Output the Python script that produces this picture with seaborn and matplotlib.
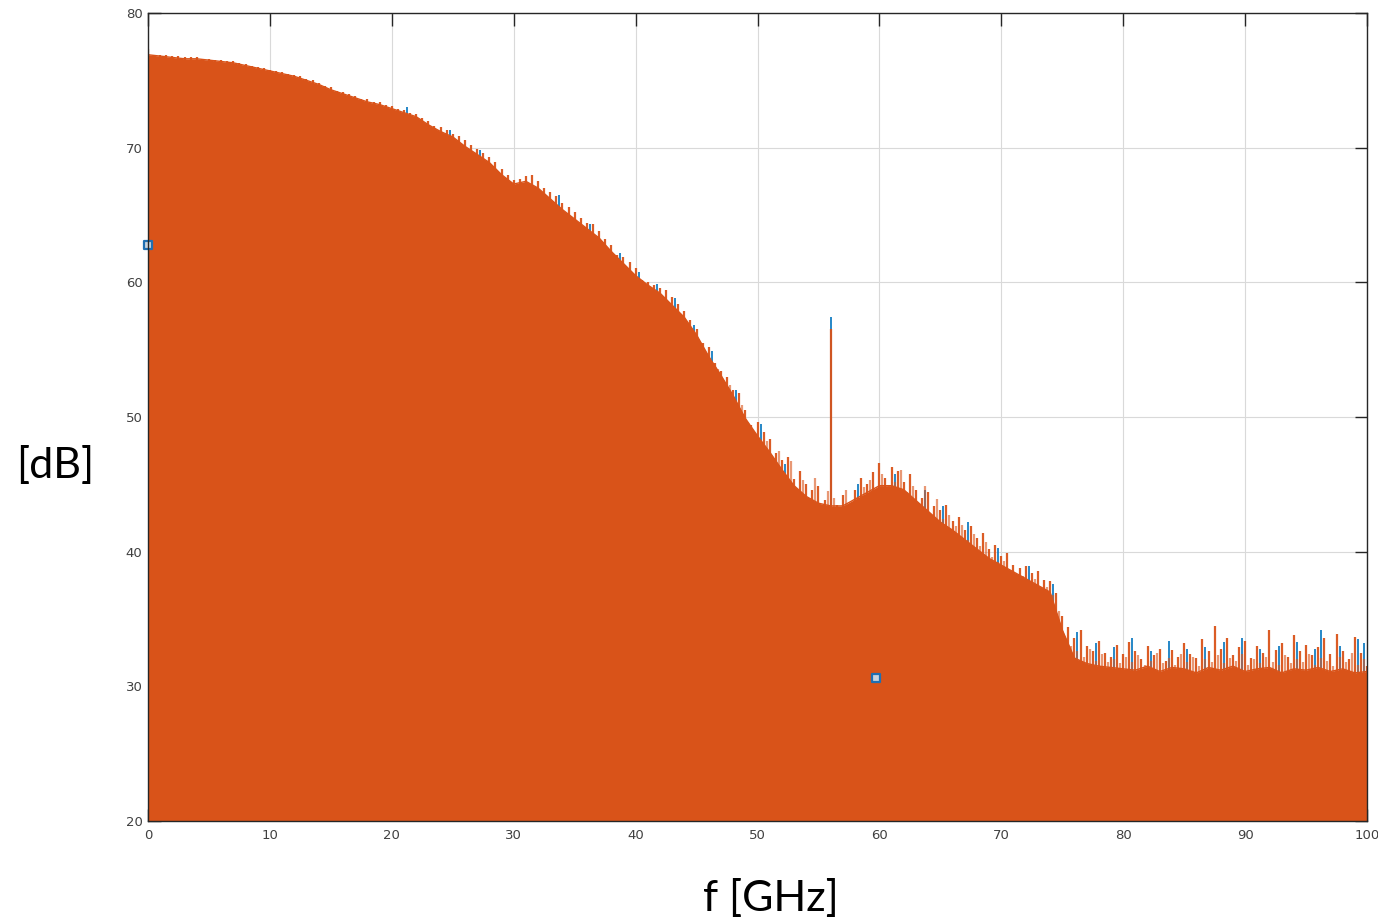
import numpy as np
import pandas as pd
import matplotlib
matplotlib.use("Agg")
import matplotlib.pyplot as plt
import seaborn as sns

# ---- spectrum data (dB) ----
# solid body level, 1 GHz steps from 0 to 100 GHz
floor_freq_ghz = list(range(0, 101))
floor_db = [
    76.9, 76.8, 76.7, 76.6, 76.6, 76.5, 76.4, 76.3, 76.1, 75.9,
    75.7, 75.5, 75.3, 75.0, 74.7, 74.3, 74.0, 73.7, 73.4, 73.2,
    72.9, 72.6, 72.3, 71.7, 71.2, 70.8, 70.1, 69.5, 68.9, 68.0,
    67.3, 67.5, 67.0, 66.2, 65.4, 64.7, 64.0, 63.3, 62.3, 61.4,
    60.5, 59.8, 59.2, 58.3, 57.4, 56.1, 54.5, 53.1, 51.6, 49.9,
    48.6, 47.4, 46.1, 44.9, 44.1, 43.6, 43.4, 43.4, 43.9, 44.4,
    44.9, 44.9, 44.6, 43.8, 43.0, 42.2, 41.6, 40.9, 40.2, 39.5,
    39.0, 38.5, 38.0, 37.5, 37.0, 34.2, 32.1, 31.7, 31.5, 31.4,
    31.3, 31.2, 31.5, 31.1, 31.4, 31.3, 31.0, 31.4, 31.2, 31.5,
    31.1, 31.3, 31.4, 31.0, 31.3, 31.2, 31.4, 31.1, 31.3, 31.0,
    31.1,
]

# orange trace peaks, 0.5 GHz steps from 0 to 100 GHz
peak_freq_ghz = [i * 0.5 for i in range(201)]
orange_peak_db = [
    77.3, 76.9, 76.9, 76.9, 76.8, 76.8, 76.7, 76.7, 76.7, 76.6,   # 0 - 4.5
    76.6, 76.5, 76.5, 76.4, 76.4, 76.3, 76.2, 76.1, 76.0, 75.9,   # 5 - 9.5
    75.8, 75.7, 75.6, 75.5, 75.4, 75.3, 75.1, 75.0, 74.8, 74.6,   # 10 - 14.5
    74.5, 74.2, 74.1, 74.0, 73.8, 73.6, 73.6, 73.4, 73.4, 73.2,   # 15 - 19.5
    73.1, 72.9, 72.8, 72.6, 72.5, 72.2, 72.0, 71.6, 71.5, 71.3,   # 20 - 24.5
    71.0, 70.9, 70.6, 70.2, 69.9, 69.6, 69.3, 68.9, 68.4, 68.0,   # 25 - 29.5
    67.6, 67.7, 67.9, 68.0, 67.5, 67.0, 66.7, 66.4, 65.9, 65.6,   # 30 - 34.5
    65.2, 64.8, 64.4, 64.3, 63.8, 63.2, 62.8, 62.0, 61.9, 61.5,   # 35 - 39.5
    61.1, 60.2, 60.0, 59.8, 59.6, 59.4, 58.9, 58.4, 57.9, 57.2,   # 40 - 44.5
    56.5, 55.5, 55.2, 54.0, 53.4, 53.0, 52.0, 51.8, 50.5, 49.4,   # 45 - 49.5
    49.6, 48.9, 48.4, 47.3, 46.8, 47.0, 45.4, 46.0, 45.0, 44.6,   # 50 - 54.5
    44.9, 43.8, 56.5, 43.5, 44.2, 43.1, 44.6, 45.5, 45.0, 45.9,   # 55 - 59.5
    46.6, 45.5, 46.3, 46.0, 45.2, 45.8, 44.6, 44.0, 44.4, 43.4,   # 60 - 64.5
    43.1, 43.5, 42.3, 42.6, 41.6, 41.9, 41.0, 41.4, 40.2, 40.5,   # 65 - 69.5
    39.7, 39.9, 39.0, 38.8, 38.9, 38.4, 38.6, 37.9, 37.8, 36.9,   # 70 - 74.5
    35.2, 34.4, 33.6, 34.2, 33.0, 32.6, 33.4, 32.5, 32.2, 33.1,   # 75 - 79.5
    32.4, 33.3, 32.6, 32.0, 33.0, 32.3, 32.8, 31.9, 32.7, 32.2,   # 80 - 84.5
    33.2, 32.4, 32.1, 33.5, 32.6, 34.5, 32.8, 33.6, 32.3, 32.9,   # 85 - 89.5
    33.4, 32.1, 33.0, 32.5, 34.2, 32.7, 33.2, 32.2, 33.8, 32.6,   # 90 - 94.5
    33.1, 32.3, 32.9, 33.6, 32.4, 33.9, 32.6, 32.0, 33.7, 32.5,   # 95 - 99.5
    31.5,                                                          # 100
]

# fainter orange spikes between the main peaks, 44.25 to 99.75 GHz
mid_freq_ghz = [44.25 + i * 0.5 for i in range(112)]
orange_mid_db = [
    57.0, 56.2, 55.0, 54.6, 53.8, 53.6, 52.5, 52.4, 50.8, 50.9,   # 44.25 - 48.75
    49.0, 48.5, 48.0, 48.2, 46.6, 47.5, 45.6, 46.7, 44.6, 45.3,   # 49.25 - 53.75
    44.0, 45.5, 43.4, 44.5, 44.0, 42.9, 44.6, 43.6, 44.0, 44.8,   # 54.25 - 58.75
    45.3, 44.6, 45.8, 44.9, 45.2, 46.1, 44.4, 44.9, 43.6, 44.9,   # 59.25 - 63.75
    42.8, 43.9, 42.4, 42.7, 41.9, 42.0, 40.9, 41.3, 40.4, 40.7,   # 64.25 - 68.75
    39.6, 39.2, 39.3, 38.6, 38.3, 38.2, 37.6, 38.0, 37.2, 37.4,   # 69.25 - 73.75
    36.8, 35.6, 33.4, 33.0, 32.6, 32.2, 32.8, 31.9, 32.4, 31.8,   # 74.25 - 78.75
    32.0, 31.7, 32.2, 31.8, 32.3, 31.6, 31.9, 32.5, 31.7, 32.1,   # 79.25 - 83.75
    31.6, 32.4, 31.8, 32.2, 31.5, 32.0, 31.8, 32.3, 31.7, 32.1,   # 84.25 - 88.75
    31.9, 32.4, 31.6, 32.0, 31.7, 32.2, 31.8, 31.6, 32.3, 31.7,   # 89.25 - 93.75
    32.0, 31.8, 32.4, 31.6, 32.1, 31.9, 31.5, 32.2, 31.8, 32.5,   # 94.25 - 98.75
    31.6, 32.0,                                                    # 99.25 - 99.75
]

# blue trace tips that rise above the orange trace
blue_tip_freq_ghz = [
    21.25, 24.75, 27.25, 33.75, 36.25, 38.75, 40.25, 41.75, 43.25, 44.75,
    46.25, 48.25, 50.25, 52.25, 56.0, 58.25, 61.25, 63.75, 65.25, 67.25,
    69.75, 72.25, 74.25, 76.25, 77.75, 79.25, 80.75, 82.25, 83.75, 85.25,
    86.75, 88.25, 89.75, 91.25, 92.75, 94.25, 95.75, 96.25, 97.75, 99.25,
    99.75,
]
blue_tip_db = [
    73.0, 71.3, 69.8, 66.5, 64.3, 62.2, 60.8, 59.9, 58.8, 56.8,
    54.9, 52.0, 49.5, 46.5, 57.4, 45.0, 45.8, 44.6, 43.4, 42.2,
    40.3, 38.9, 37.6, 34.0, 33.2, 32.9, 33.6, 32.6, 33.4, 32.8,
    32.9, 33.3, 33.6, 32.8, 33.0, 33.3, 32.8, 34.2, 33.0, 33.5,
    33.2,
]

# data-tip markers
marker_freq_ghz = [0.0, 59.7]
marker_db = [62.8, 30.6]

x_ticks = [0, 10, 20, 30, 40, 50, 60, 70, 80, 90, 100]
y_ticks = [20, 30, 40, 50, 60, 70, 80]

ORANGE = "#D95319"
BLUE = "#0072BD"

sns.set_theme(style="white")
plt.rcParams["font.family"] = ["DejaVu Sans"]

fig = plt.figure(figsize=(13.78, 9.22), dpi=100)
ax = fig.add_axes([148 / 1378, 1 - 821 / 922, (1367 - 148) / 1378, (821 - 13) / 922])

y_base = y_ticks[0]

body = pd.DataFrame({"f": floor_freq_ghz, "db": floor_db})
peaks = pd.DataFrame({"f": peak_freq_ghz, "db": orange_peak_db})
mids = pd.DataFrame({"f": mid_freq_ghz, "db": orange_mid_db})
tips = pd.DataFrame({"f": blue_tip_freq_ghz, "db": blue_tip_db})

# blue trace below the orange one
ax.vlines(tips["f"], y_base, tips["db"], color=BLUE, linewidth=1.4, alpha=0.85, zorder=2)

# orange trace: solid body with thin spikes on top
ax.fill_between(body["f"], y_base, body["db"], color=ORANGE, linewidth=0, zorder=3)
sns.lineplot(data=body, x="f", y="db", color=ORANGE, linewidth=1.0, ax=ax, zorder=3)
ax.vlines(mids["f"], y_base, mids["db"], color=ORANGE, linewidth=1.6, alpha=0.6, zorder=3)
ax.vlines(peaks["f"], y_base, peaks["db"], color=ORANGE, linewidth=1.6, alpha=0.95, zorder=4)

# data-tip markers
sns.scatterplot(x=marker_freq_ghz, y=marker_db, marker="s", s=38,
                color="#c9d3dd", edgecolor="#1f6fb2", linewidth=1.6,
                ax=ax, zorder=6, clip_on=False)

ax.set_xlim(x_ticks[0], x_ticks[-1])
ax.set_ylim(y_ticks[0], y_ticks[-1])
ax.set_xticks(x_ticks)
ax.set_yticks(y_ticks)
ax.set_xticklabels([str(v) for v in x_ticks])
ax.set_yticklabels([str(v) for v in y_ticks])
ax.set_xlabel("")
ax.set_ylabel("")

ax.grid(True, color="#d9d9d9", linewidth=0.8, zorder=0)
ax.set_axisbelow(True)
for s in ax.spines.values():
    s.set_color("#262626")
    s.set_linewidth(1.0)
    s.set_visible(True)
    s.set_zorder(7)

ax.tick_params(axis="both", which="major", direction="in", length=9, width=1.0,
               color="#262626", labelcolor="#404040", labelsize=9.5,
               top=True, right=True, bottom=True, left=True)
ax.tick_params(axis="x", pad=6)
ax.tick_params(axis="y", pad=4)

fig.text(55 / 1378, 1 - 465 / 922, "[dB]", fontsize=31, ha="center", va="center",
         family=["Lato", "DejaVu Sans"], color="black")
fig.text(771 / 1378, 1 - 898 / 922, "f [GHz]", fontsize=31, ha="center", va="center",
         family=["Lato", "DejaVu Sans"], color="black")

fig.savefig("out.png", dpi=100, facecolor="white")
